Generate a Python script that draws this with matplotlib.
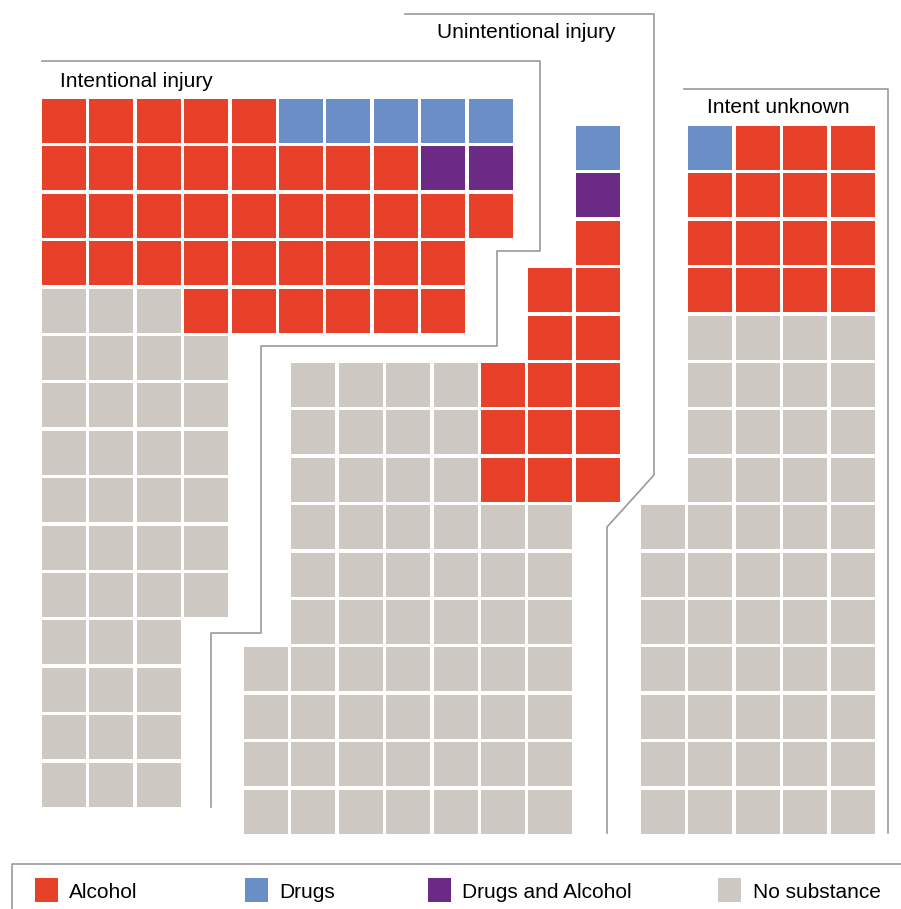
import matplotlib
matplotlib.use("Agg")
import matplotlib.pyplot as plt
from matplotlib.patches import Rectangle

plt.rcParams['font.family'] = ['Liberation Sans', 'DejaVu Sans']

# categories: A = alcohol, D = drugs, P = drugs and alcohol, N = no substance
categories = ["A", "D", "P", "N"]
labels = ["Alcohol", "Drugs", "Drugs and Alcohol", "No substance"]
colors = {"A": "#E8412A", "D": "#6A8EC6", "P": "#6B2A84", "N": "#CEC8C3"}

intentional = [
    "AAAAADDDDD",
    "AAAAAAAAPP",
    "AAAAAAAAAA",
    "AAAAAAAAA.",
    "NNNAAAAAA.",
    "NNNN......",
    "NNNN......",
    "NNNN......",
    "NNNN......",
    "NNNN......",
    "NNNN......",
    "NNN.......",
    "NNN.......",
    "NNN.......",
    "NNN.......",
]

unintentional = [
    ".......D",
    ".......P",
    ".......A",
    "......AA",
    "......AA",
    ".NNNNAAA",
    ".NNNNAAA",
    ".NNNNAAA",
    ".NNNNNN.",
    ".NNNNNN.",
    ".NNNNNN.",
    "NNNNNNN.",
    "NNNNNNN.",
    "NNNNNNN.",
    "NNNNNNN.",
]

unknown = [
    ".DAAA",
    ".AAAA",
    ".AAAA",
    ".AAAA",
    ".NNNN",
    ".NNNN",
    ".NNNN",
    ".NNNN",
    "NNNNN",
    "NNNNN",
    "NNNNN",
    "NNNNN",
    "NNNNN",
    "NNNNN",
    "NNNNN",
]

pitch = 47.4
cell = 44

fig = plt.figure(figsize=(9.01, 9.09), dpi=100)
ax = fig.add_axes([0, 0, 1, 1])
ax.set_xlim(0, 901)
ax.set_ylim(909, 0)
ax.axis("off")


def draw_block(rows, x0, y0):
    for r, row in enumerate(rows):
        for c, k in enumerate(row):
            if k == ".":
                continue
            ax.add_patch(Rectangle((x0 + c * pitch, y0 + r * pitch), cell, cell,
                                   facecolor=colors[k], edgecolor="none"))


draw_block(intentional, 42, 99)
draw_block(unintentional, 244, 126)
draw_block(unknown, 641, 126)

line_col = "#999999"
lw = 1.2
ax.plot([42, 540, 540, 497, 497, 261, 261, 211, 211],
        [61, 61, 251, 251, 346, 346, 633, 633, 807], color=line_col, lw=lw)
ax.plot([405, 654, 654, 607, 607], [14, 14, 475, 527, 833], color=line_col, lw=lw)
ax.plot([684, 888, 888], [89, 89, 833], color=line_col, lw=lw)
ax.plot([12, 12, 901], [909, 864, 864], color=line_col, lw=lw)

ax.text(60, 87, "Intentional injury", fontsize=15, va="baseline", ha="left")
ax.text(437, 38, "Unintentional injury", fontsize=15, va="baseline", ha="left")
ax.text(707, 113, "Intent unknown", fontsize=15, va="baseline", ha="left")

# legend
patch_x = [35, 245, 428, 718]
text_x = [69, 279, 462, 753]
for k, lab, px, tx in zip(categories, labels, patch_x, text_x):
    ax.add_patch(Rectangle((px, 878), 23, 24, facecolor=colors[k], edgecolor="none"))
    ax.text(tx, 898, lab, fontsize=15, va="baseline", ha="left")

fig.savefig("out.png", dpi=100, facecolor="white")
